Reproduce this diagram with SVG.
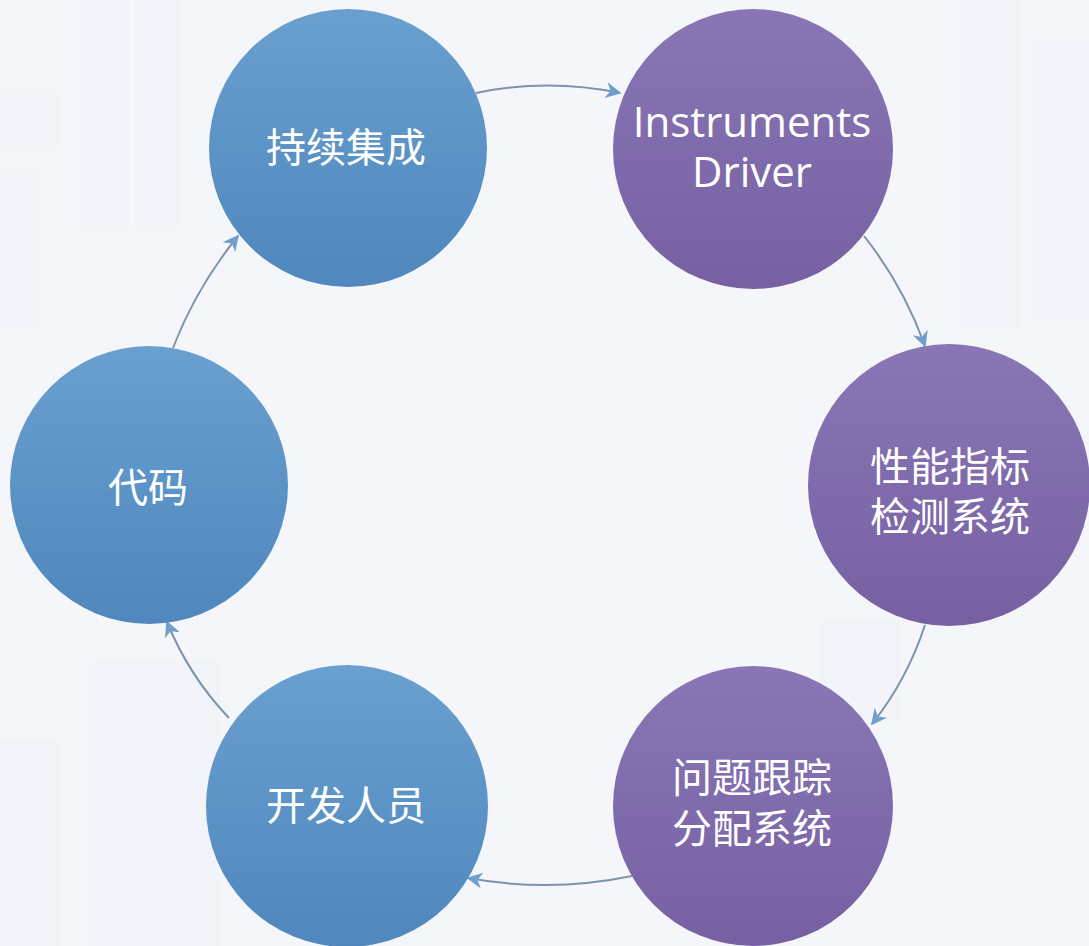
<svg xmlns="http://www.w3.org/2000/svg" width="1089" height="946" viewBox="0 0 1089 946">
<style>
.lbl{font-family:"Noto Sans CJK SC","Noto Sans",sans-serif;font-size:40px;fill:#ffffff;text-anchor:middle}
.en{font-family:"Open Sans","Noto Sans",sans-serif;font-size:42px;fill:#ffffff;text-anchor:middle}
.conn{fill:none;stroke:#7d93aa;stroke-width:2}
.bg{fill:#eef0f6;opacity:0.35}
</style>
<defs>
<linearGradient id="gb" x1="0" y1="0" x2="0" y2="1">
<stop offset="0" stop-color="#6aa0cf"/>
<stop offset="1" stop-color="#4f87be"/>
</linearGradient>
<linearGradient id="gp" x1="0" y1="0" x2="0" y2="1">
<stop offset="0" stop-color="#8977b5"/>
<stop offset="1" stop-color="#7660a2"/>
</linearGradient>
<marker id="arr2" viewBox="0 0 10 10" refX="9" refY="5" markerWidth="16" markerHeight="16" markerUnits="userSpaceOnUse" orient="auto">
<path d="M0,0 L10,5 L0,10 L3,5 Z" fill="#6f9fca"/>
</marker>
</defs>
<rect width="1089" height="946" fill="#f5f6fa"/>
<g id="background">
<rect class="bg" x="0" y="90" width="60" height="60"/>
<rect class="bg" x="80" y="0" width="50" height="230"/>
<rect class="bg" x="135" y="0" width="45" height="230"/>
<rect class="bg" x="0" y="170" width="40" height="160"/>
<rect class="bg" x="90" y="660" width="130" height="286"/>
<rect class="bg" x="0" y="740" width="60" height="206"/>
<rect class="bg" x="960" y="0" width="60" height="330"/>
<rect class="bg" x="1030" y="40" width="59" height="280"/>
<rect class="bg" x="820" y="620" width="80" height="100"/>
</g>
<g id="connectors">
<path class="conn" marker-end="url(#arr2)" d="M476,93 Q548,78 620,93"/>
<path class="conn" marker-end="url(#arr2)" d="M864,236 Q903,285 925,346"/>
<path class="conn" marker-end="url(#arr2)" d="M925,625 Q907,680 872,724"/>
<path class="conn" marker-end="url(#arr2)" d="M632,876 Q550,893 468,878"/>
<path class="conn" marker-end="url(#arr2)" d="M229,718 Q189,676 167,622"/>
<path class="conn" marker-end="url(#arr2)" d="M173,348 Q196,288 238,236"/>
</g>
<g id="node-ci">
<circle cx="348" cy="148" r="139" fill="url(#gb)"/>
<text class="lbl" x="346" y="162">持续集成</text>
</g>
<g id="node-driver">
<circle cx="753" cy="149" r="140" fill="url(#gp)"/>
<text class="en" x="752" y="137">Instruments</text>
<text class="en" x="752" y="187">Driver</text>
</g>
<g id="node-perf">
<circle cx="949" cy="485" r="141" fill="url(#gp)"/>
<text class="lbl" x="950" y="481">性能指标</text>
<text class="lbl" x="950" y="531">检测系统</text>
</g>
<g id="node-issue">
<circle cx="753" cy="806" r="140" fill="url(#gp)"/>
<text class="lbl" x="752" y="792">问题跟踪</text>
<text class="lbl" x="752" y="843">分配系统</text>
</g>
<g id="node-dev">
<circle cx="347" cy="806" r="141" fill="url(#gb)"/>
<text class="lbl" x="346" y="820">开发人员</text>
</g>
<g id="node-code">
<circle cx="149" cy="485" r="139" fill="url(#gb)"/>
<text class="lbl" x="148" y="502">代码</text>
</g>
</svg>
